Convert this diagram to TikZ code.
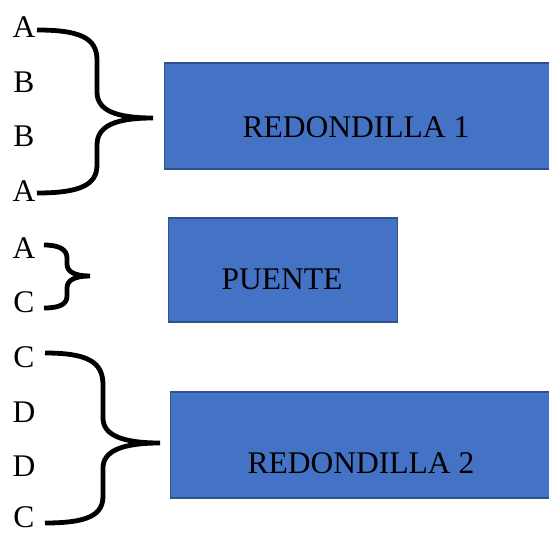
\documentclass[tikz,border=0pt]{standalone}
\usepackage{fontspec}
\setmainfont{Liberation Serif}
\begin{document}
\begin{tikzpicture}[x=1pt,y=-1pt,
  letter/.style={inner sep=0pt,font=\fontsize{31.5}{36}\selectfont},
  bluebox/.style={draw=boxedge,line width=1.6pt,fill=boxfill,inner sep=0pt},
  brace/.style={line width=4.8pt,line cap=butt}]
\definecolor{boxfill}{HTML}{4472C4}
\definecolor{boxedge}{HTML}{2F528F}
\clip (0,0) rectangle (549,533);
% boxes
\node[bluebox,minimum width=400pt,minimum height=106pt,anchor=north west] (r1) at (163.5,62) {};
\node[letter] (r1t) at (356,127) {REDONDILLA 1};
\node[bluebox,minimum width=229pt,minimum height=104pt,anchor=north west] (pu) at (167.5,217) {};
\node[letter] (put) at (282,279) {PUENTE};
\node[bluebox,minimum width=400pt,minimum height=106pt,anchor=north west] (r2) at (169.5,391) {};
\node[letter] (r2t) at (361,463) {REDONDILLA 2};
% letters
\node[letter] (l1) at (24,27) {A};
\node[letter] (l2) at (24,82) {B};
\node[letter] (l3) at (24,136) {B};
\node[letter] (l4) at (24,191) {A};
\node[letter] (l5) at (24,248) {A};
\node[letter] (l6) at (24,302) {C};
\node[letter] (l7) at (24,357) {C};
\node[letter] (l8) at (24,412) {D};
\node[letter] (l9) at (24,466) {D};
\node[letter] (l10) at (24,517) {C};
% braces
\coordinate (b1t) at (37,30);
\coordinate (b1m) at (153,118);
\coordinate (b1b) at (37,193);
\draw[brace] (b1t) .. controls (80,30) and (97,38) .. (97,60) -- (97,92)
  .. controls (97,110) and (115,118) .. (b1m)
  .. controls (115,118) and (97,126) .. (97,145) -- (97,165)
  .. controls (97,185) and (80,193) .. (b1b);
\coordinate (b2t) at (44,245);
\coordinate (b2m) at (90,276);
\coordinate (b2b) at (44,308);
\draw[brace] (b2t) .. controls (60,245) and (67,250) .. (67,258) -- (67,264)
  .. controls (67,272) and (75,276) .. (b2m)
  .. controls (75,276) and (67,280) .. (67,288) -- (67,296)
  .. controls (67,304) and (60,308) .. (b2b);
\coordinate (b3t) at (45,353);
\coordinate (b3m) at (160,443);
\coordinate (b3b) at (45,523);
\draw[brace] (b3t) .. controls (88,353) and (103,362) .. (103,385) -- (103,418)
  .. controls (103,435) and (122,443) .. (b3m)
  .. controls (122,443) and (103,451) .. (103,468) -- (103,496)
  .. controls (103,515) and (88,523) .. (b3b);
\end{tikzpicture}
\end{document}
